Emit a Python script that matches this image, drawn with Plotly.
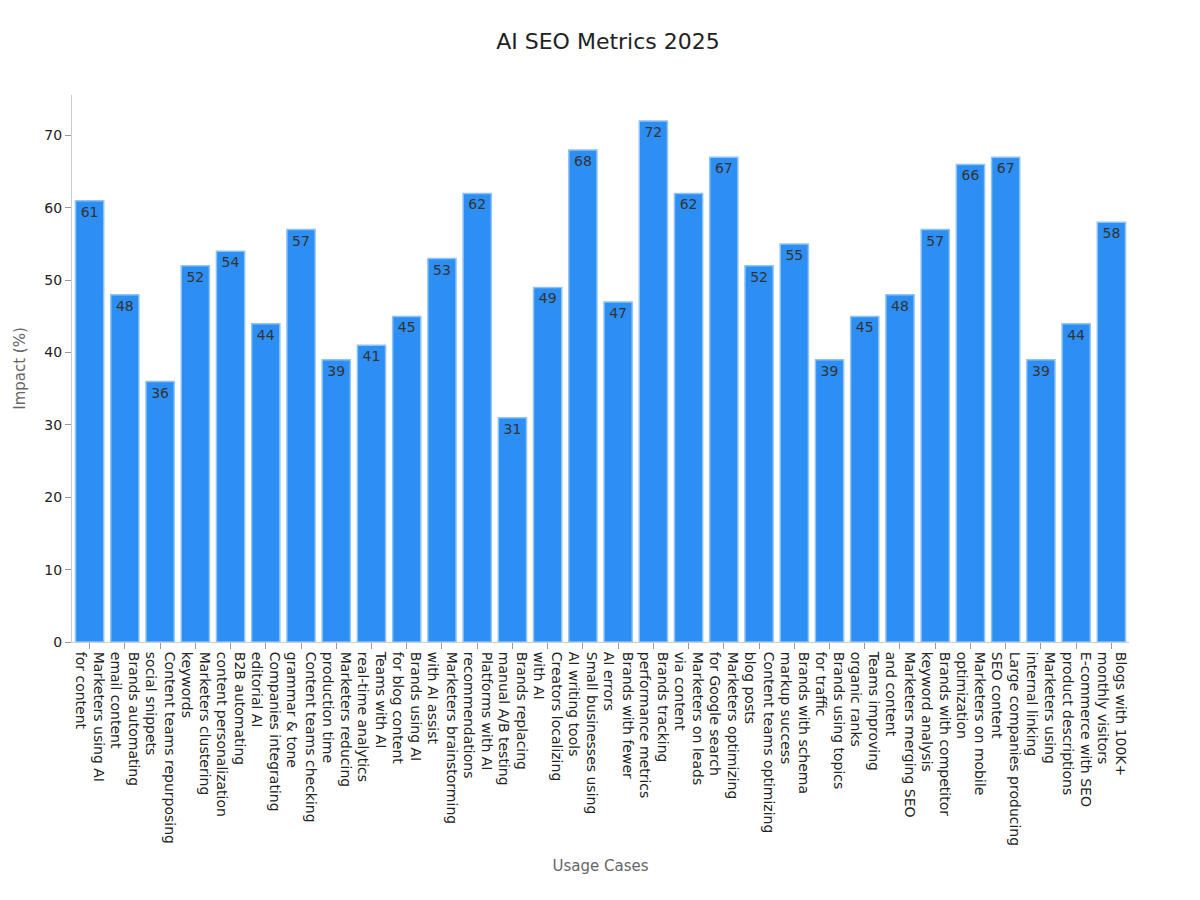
import plotly.graph_objects as go

categories = [
    "Marketers using AI<br>for content", "Brands automating<br>email content",
    "Content teams repurposing<br>social snippets", "Marketers clustering<br>keywords",
    "B2B automating<br>content personalization", "Companies integrating<br>editorial AI",
    "Content teams checking<br>grammar & tone", "Marketers reducing<br>production time",
    "Teams with AI<br>real-time analytics", "Brands using AI<br>for blog content",
    "Marketers brainstorming<br>with AI assist", "Platforms with AI<br>recommendations",
    "Brands replacing<br>manual A/B testing", "Creators localizing<br>with AI",
    "Small businesses using<br>AI writing tools", "Brands with fewer<br>AI errors",
    "Brands tracking<br>performance metrics", "Marketers on leads<br>via content",
    "Marketers optimizing<br>for Google search", "Content teams optimizing<br>blog posts",
    "Brands with schema<br>markup success", "Brands using topics<br>for traffic",
    "Teams improving<br>organic ranks", "Marketers merging SEO<br>and content",
    "Brands with competitor<br>keyword analysis", "Marketers on mobile<br>optimization",
    "Large companies producing<br>SEO content", "Marketers using<br>internal linking",
    "E-commerce with SEO<br>product descriptions", "Blogs with 100K+<br>monthly visitors",
]
values = [61, 48, 36, 52, 54, 44, 57, 39, 41, 45, 53, 62, 31, 49, 68,
          47, 72, 62, 67, 52, 55, 39, 45, 48, 57, 66, 67, 39, 44, 58]

fig = go.Figure(go.Bar(
    x=categories, y=values, text=values, textposition="inside",
    insidetextanchor="end", textangle=0,
    textfont=dict(color="#333333", size=14),
    marker=dict(color="#2d8ef4", line=dict(color="#8ec3f7", width=1.5)),
    width=0.8,
))
fig.update_layout(
    width=1200, height=900,
    font=dict(family="DejaVu Sans", color="#333333", size=14),
    title=dict(text="AI SEO Metrics 2025", x=0.5, y=0.972, xanchor="center",
               font=dict(size=22, color="#222222")),
    plot_bgcolor="white", paper_bgcolor="white",
    margin=dict(l=64, r=79, t=87, b=266),
    showlegend=False,
    uniformtext=dict(mode=False),
)
fig.update_xaxes(title=dict(text="Usage Cases", font=dict(color="#666666", size=15)),
                 tickangle=90, ticks="outside", ticklen=6, tickcolor="#999999",
                 showline=True, linecolor="#cccccc", showgrid=False,
                 tickfont=dict(size=14, color="#222222"))
fig.update_yaxes(title=dict(text="Impact (%)", font=dict(color="#666666", size=15)),
                 range=[0, 75.6], dtick=10, ticks="outside", ticklen=6, tickcolor="#999999",
                 showline=True, linecolor="#cccccc", showgrid=False, zeroline=False,
                 tickfont=dict(size=14, color="#222222"))
fig.write_html("out.html")
